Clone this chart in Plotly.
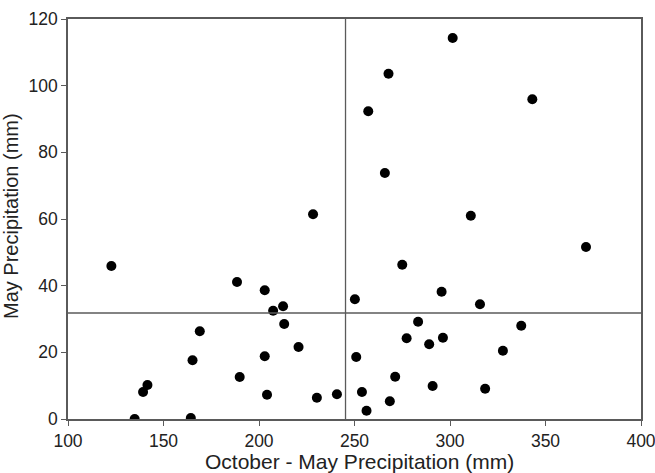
import plotly.graph_objects as go

oct_may = [122.7, 188.5, 203.0, 212.6, 207.4, 213.2, 169.0, 220.7, 203.0, 165.2,
           189.9, 141.6, 139.3, 204.2, 230.3, 134.9, 164.3, 228.3,
           371.2, 275.0, 295.6, 250.2, 315.7, 283.3, 337.3, 277.3, 296.3, 289.1,
           327.7, 250.9, 271.3, 290.9, 318.4, 240.8, 253.9, 268.5, 256.3,
           301.4, 267.8, 343.1, 257.2, 265.9, 310.9]
may = [45.9, 41.1, 38.6, 33.8, 32.5, 28.5, 26.3, 21.6, 18.8, 17.6,
       12.6, 10.2, 8.1, 7.3, 6.4, 0.0, 0.3, 61.4,
       51.6, 46.3, 38.2, 35.9, 34.4, 29.2, 28.0, 24.2, 24.4, 22.4,
       20.5, 18.6, 12.7, 9.9, 9.1, 7.4, 8.1, 5.3, 2.5,
       114.3, 103.6, 95.9, 92.3, 73.8, 61.0]
x_ref = 245.3
y_ref = 31.8

x_ticks = [100, 150, 200, 250, 300, 350, 400]
y_ticks = [0, 20, 40, 60, 80, 100, 120]
x_title = "October - May Precipitation (mm)"
y_title = "May Precipitation (mm)"

axcol = "#5a5a5a"
txtcol = "#222222"
fig = go.Figure()
fig.add_trace(go.Scatter(x=oct_may, y=may, mode="markers",
                         marker=dict(color="black", size=10, line=dict(width=0)),
                         showlegend=False, hoverinfo="x+y"))
fig.add_shape(type="line", xref="x", yref="paper", x0=x_ref, x1=x_ref, y0=0, y1=1,
              line=dict(color=axcol, width=1.3))
fig.add_shape(type="line", xref="paper", yref="y", x0=0, x1=1, y0=y_ref, y1=y_ref,
              line=dict(color=axcol, width=1.3))

fig.add_annotation(text=x_title, xref="paper", yref="paper", x=0.509, y=-0.105,
                   xanchor="center", yanchor="middle", showarrow=False,
                   font=dict(size=21, color=txtcol))
fig.add_annotation(text=y_title, xref="paper", yref="paper", x=-0.0995, y=0.5075,
                   xanchor="center", yanchor="middle", showarrow=False, textangle=-90,
                   font=dict(size=20, color=txtcol))

font = dict(family="Liberation Sans, Arial, sans-serif", color=txtcol)
fig.update_layout(
    width=655, height=473,
    margin=dict(l=68, r=14, t=19, b=54),
    paper_bgcolor="white", plot_bgcolor="white",
    font=font,
    xaxis=dict(range=[100, 400], tickvals=x_ticks, ticks="outside", ticklen=5,
               tickwidth=1.3, tickcolor=axcol, showline=True, linecolor=axcol,
               linewidth=1.5, mirror=True, showgrid=False, zeroline=False,
               automargin=False, ticklabeloverflow="allow",
               tickfont=dict(size=17.5)),
    yaxis=dict(range=[0, 120], tickvals=y_ticks, ticks="outside", ticklen=5,
               tickwidth=1.3, tickcolor=axcol, showline=True, linecolor=axcol,
               linewidth=1.5, mirror=True, showgrid=False, zeroline=False,
               automargin=False, ticklabeloverflow="allow",
               tickfont=dict(size=17.5)),
)
fig.write_html("out.html")
